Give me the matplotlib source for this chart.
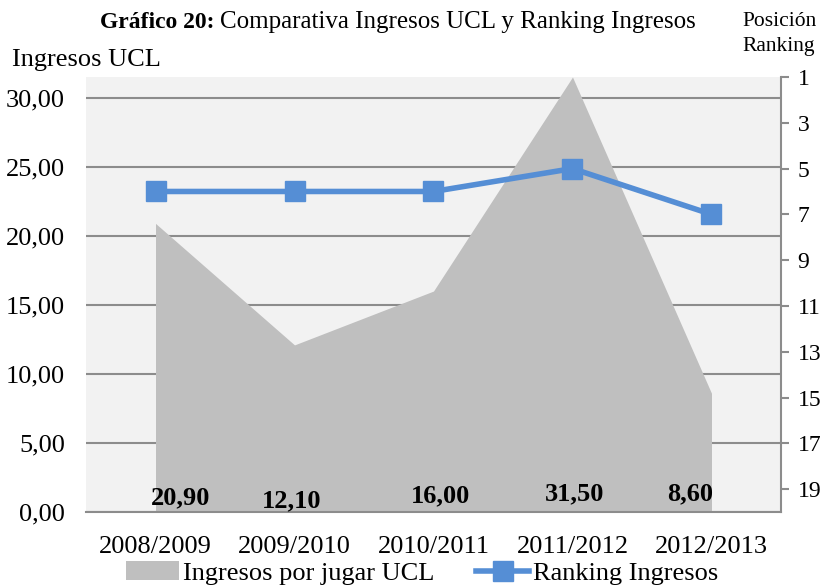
import numpy as np
import matplotlib
matplotlib.use("Agg")
import matplotlib.pyplot as plt
from matplotlib.patches import Patch
from matplotlib.lines import Line2D

plt.rcParams['font.family'] = ['Liberation Serif', 'DejaVu Serif']

# Data
temporadas = ['2008/2009', '2009/2010', '2010/2011', '2011/2012', '2012/2013']
ingresos = [20.90, 12.10, 16.00, 31.50, 8.60]
ranking = [6, 6, 6, 5, 7]
etiquetas = ['20,90', '12,10', '16,00', '31,50', '8,60']
ticks_izq = [0, 5, 10, 15, 20, 25, 30]
ticks_der = [1, 3, 5, 7, 9, 11, 13, 15, 17, 19]

# Styling
gris_area = '#BFBFBF'
fondo = '#F2F2F2'
grid_col = '#8C8C8C'
azul = '#558ED5'
label_dx = [25, -3, 7, 2, -21]   # nudges in px, as in the original
label_dy = [-4, -7, -2, 0, 0]

fig = plt.figure(figsize=(8.24, 5.87), dpi=100)
ax = fig.add_axes([86/824, 75/587, 695/824, 435/587])
ax.set_facecolor(fondo)

x = np.arange(len(temporadas))
ax.fill_between(x, 0, ingresos, color=gris_area, linewidth=0, zorder=2)
ax.set_xlim(-0.5, len(temporadas) - 0.5)
ax.set_ylim(0, 31.5)
ax.set_yticks(ticks_izq)
ax.set_yticklabels([f'{v:.2f}'.replace('.', ',') for v in ticks_izq])
ax.yaxis.grid(True, color=grid_col, linewidth=1.5, zorder=1)
ax.set_axisbelow(True)
ax.tick_params(axis='y', length=0, pad=15, labelsize=19)
ax.set_xticks(x)
ax.set_xticklabels(temporadas)
ax.tick_params(axis='x', length=0, pad=17, labelsize=19)
for s in ['top', 'left', 'right']:
    ax.spines[s].set_visible(False)
ax.spines['bottom'].set_color(grid_col)
ax.spines['bottom'].set_linewidth(1.5)

for i, lab in enumerate(etiquetas):
    ax.annotate(lab, (x[i], 0), xytext=(label_dx[i] * 0.72, 5 + label_dy[i] * 0.72),
                textcoords='offset points', ha='center', va='bottom',
                fontsize=19, fontweight='bold', zorder=5)

ax2 = ax.twinx()
ax2.plot(x, ranking, color=azul, linewidth=4, marker='s', markersize=15,
         markerfacecolor=azul, markeredgecolor=azul, zorder=4)
ax2.set_ylim(20, 1)
ax2.set_yticks(ticks_der)
ax2.tick_params(axis='y', length=6, width=1.5, color=grid_col, pad=6, labelsize=17)
for s in ['top', 'left', 'bottom']:
    ax2.spines[s].set_visible(False)
ax2.spines['right'].set_color(grid_col)
ax2.spines['right'].set_linewidth(1.5)

# Title: bold part + regular part
t1 = fig.text(100/824, 1 - 22/587, 'Gráfico 20:', fontsize=17, fontweight='bold',
              ha='left', va='center')
fig.canvas.draw()
bb = t1.get_window_extent()
fig.text((bb.x1 + 5) / 824, 1 - 22/587, 'Comparativa Ingresos UCL y Ranking Ingresos',
         fontsize=18, ha='left', va='center')
fig.text(12/824, 1 - 60/587, 'Ingresos UCL', fontsize=19, ha='left', va='center')
fig.text(742/824, 1 - 34/587, 'Posición\nRanking', fontsize=15.5, ha='left',
         va='center', linespacing=1.45)

handles = [Patch(facecolor=gris_area, edgecolor='none'),
           Line2D([0], [0], color=azul, linewidth=4, marker='s', markersize=15)]
fig.legend(handles, ['Ingresos por jugar UCL', 'Ranking Ingresos'],
           loc='center', bbox_to_anchor=(422/824, 1 - 573/587), ncol=2,
           frameon=False, fontsize=19, handlelength=2.0, handletextpad=0.15,
           columnspacing=1.6, borderpad=0)

fig.savefig('out.png', dpi=100)
